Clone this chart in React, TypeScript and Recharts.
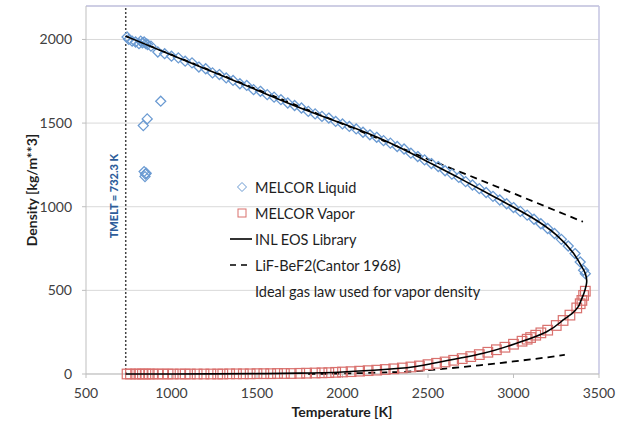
import { CartesianGrid, Legend, ReferenceLine, Scatter, ScatterChart, XAxis, YAxis } from "recharts";

const FONT = "Lato, 'Open Sans', sans-serif";

// MELCOR liquid density (diamonds)
const liquidT = [
  740, 750, 770, 790, 810, 820, 830, 840, 850, 860, 880, 937, 858, 835, 840, 848, 845, 852,
  920, 960, 1000, 1040, 1080, 1120, 1160, 1200, 1240, 1280, 1320, 1360, 1400, 1440, 1480, 1520,
  1560, 1600, 1640, 1680, 1720, 1760, 1800, 1840, 1880, 1920, 1960, 2000, 2040, 2080, 2120, 2160,
  2200, 2240, 2280, 2320, 2360, 2400, 2440, 2480, 2520, 2560, 2600, 2640, 2680, 2720, 2760, 2800,
  2840, 2880, 2920, 2960, 3000, 3040, 3080, 3120, 3160, 3200, 3240, 3280, 3320, 3360, 3390, 3410, 3420,
];
const liquidRho = [
  2015, 2000, 1990, 1985, 1975, 1990, 1980, 1985, 1975, 1970, 1960, 1631, 1525, 1485, 1210, 1195, 1180, 1200,
  1925, 1915, 1900, 1890, 1870, 1860, 1835, 1825, 1800, 1790, 1770, 1755, 1735, 1725, 1700, 1690,
  1670, 1655, 1640, 1620, 1605, 1590, 1570, 1555, 1540, 1530, 1510, 1495, 1480, 1465, 1445, 1430,
  1415, 1395, 1380, 1360, 1345, 1320, 1300, 1280, 1258, 1240, 1215, 1195, 1175, 1150, 1130, 1108,
  1085, 1062, 1040, 1018, 995, 972, 950, 925, 898, 870, 840, 805, 765, 720, 670, 620, 600,
];

// MELCOR vapor density (squares)
const vaporT = [
  740, 760, 790, 810, 830, 850, 870, 890, 920, 950, 980, 1010, 1050, 1080, 1110, 1150, 1190, 1230,
  1270, 1300, 1340, 1380, 1420, 1460, 1500, 1540, 1580, 1620, 1660, 1700, 1750, 1790, 1840, 1880,
  1920, 1960, 2000, 2050, 2100, 2150, 2200, 2250, 2300, 2350, 2400, 2450, 2500, 2550, 2600, 2650,
  2700, 2750, 2800, 2850, 2900, 2950, 3000, 3050, 3080, 3100, 3130, 3160, 3200, 3250, 3290, 3330,
  3370, 3390, 3400, 3410, 3420,
];
const vaporRho = [
  0, 0, 0, 0, 0, 0, 0, 0, 0, 0, 0, 0, 0, 0, 0, 0, 0, 0,
  0, 0, 1, 1, 1, 1, 2, 2, 2, 3, 3, 3, 4, 5, 6, 7,
  8, 10, 12, 14, 17, 20, 23, 27, 31, 36, 42, 48, 56, 64, 72, 82,
  92, 104, 116, 130, 145, 160, 178, 196, 208, 218, 232, 246, 262, 290, 320, 352,
  395, 420, 440, 470, 495,
];

// INL EOS library: liquid branch up to the critical point, then back down the vapor branch
const eosT = [
  732, 1000, 1250, 1500, 1750, 2000, 2250, 2500, 2700, 2900, 3100, 3250, 3350, 3400, 3420, 3428,
  3425, 3412, 3395, 3379, 3340, 3291, 3194, 3019, 2823, 2531, 2336, 2000, 1750, 1500, 1250, 1000, 732,
];
const eosRho = [
  2020, 1907, 1802, 1697, 1592, 1497, 1394, 1268, 1162, 1052, 940, 832, 723, 640, 600, 560,
  530, 483, 440, 403, 360, 323, 253, 184, 124, 64, 34, 12, 5, 2, 1, 0, 0,
];

// LiF-BeF2 (Cantor 1968)
const cantorLiqT = [732, 1000, 1500, 2000, 2500, 3000, 3406];
const cantorLiqRho = [2020, 1909, 1702, 1495, 1285, 1080, 910];
const cantorVapT = [1800, 2000, 2200, 2400, 2600, 2800, 3000, 3200, 3300];
const cantorVapRho = [0, 3, 8, 15, 32, 52, 75, 100, 115];

const xTicks = [500, 1000, 1500, 2000, 2500, 3000, 3500];
const yTicks = [0, 500, 1000, 1500, 2000];
const TMELT = 732.3;

const zip = (t: number[], rho: number[]) => t.map((v, i) => ({ t: v, rho: rho[i] }));

const BLUE = "#6a9ad2";
const RED = "#d9706d";

const Diamond = (props: any) => {
  const { cx, cy } = props;
  const r = 5;
  return (
    <path
      d={`M${cx},${cy - r}L${cx + r},${cy}L${cx},${cy + r}L${cx - r},${cy}Z`}
      fill="none"
      stroke={BLUE}
      strokeWidth={1.3}
    />
  );
};

const Square = (props: any) => {
  const { cx, cy } = props;
  const r = 4.8;
  return <rect x={cx - r} y={cy - r} width={2 * r} height={2 * r} fill="none" stroke={RED} strokeWidth={1.2} />;
};

const NoDot = () => <g />;

const renderLegend = () => {
  const row = { display: "flex", alignItems: "center", height: 26 };
  return (
    <div style={{ fontFamily: FONT, fontSize: 14.5, color: "#1e1e1e" }}>
      <div style={row}>
        <svg width={24} height={26}>
          <path d="M14,8.5L18.5,13L14,17.5L9.5,13Z" fill="none" stroke={BLUE} strokeWidth={1} />
        </svg>
        <span style={{ marginLeft: 3 }}>MELCOR Liquid</span>
      </div>
      <div style={row}>
        <svg width={24} height={26}>
          <rect x={10} y={9} width={8} height={8} fill="none" stroke={RED} strokeWidth={1} />
        </svg>
        <span style={{ marginLeft: 3 }}>MELCOR Vapor</span>
      </div>
      <div style={row}>
        <svg width={24} height={26}>
          <line x1={2} y1={13} x2={25} y2={13} stroke="#000" strokeWidth={1.6} />
        </svg>
        <span style={{ marginLeft: 3 }}>INL EOS Library</span>
      </div>
      <div style={row}>
        <svg width={24} height={26}>
          <line x1={2} y1={13} x2={24} y2={13} stroke="#000" strokeWidth={1.6} strokeDasharray="6 5" />
        </svg>
        <span style={{ marginLeft: 3 }}>LiF-BeF2(Cantor 1968)</span>
      </div>
      <div style={row}>
        <span style={{ marginLeft: 27 }}>Ideal gas law used for vapor density</span>
      </div>
    </div>
  );
};

export default function App() {
  return (
    <div style={{ position: "absolute", left: 0, top: 0, width: 621, height: 427, background: "#fff" }}>
      <ScatterChart width={621} height={427} margin={{ top: 6, right: 22, bottom: 0, left: 0 }}>
        <CartesianGrid vertical={false} stroke="#d9d9d9" />
        <XAxis
          type="number"
          dataKey="t"
          domain={[500, 3500]}
          ticks={xTicks}
          height={53}
          tickSize={4}
          tickMargin={10}
          axisLine={{ stroke: "#bfbfbf" }}
          tickLine={{ stroke: "#bfbfbf" }}
          tick={{ fill: "#404040", fontSize: 14, fontFamily: FONT }}
          label={{
            content: () => (
              <text x={342} y={417} textAnchor="middle" fontFamily={FONT} fontSize={14} fontWeight={700} fill="#1e1e1e">
                Temperature [K]
              </text>
            ),
          }}
        />
        <YAxis
          type="number"
          dataKey="rho"
          domain={[0, 2200]}
          ticks={yTicks}
          width={86}
          tickSize={4}
          tickMargin={10}
          axisLine={{ stroke: "#bfbfbf" }}
          tickLine={{ stroke: "#bfbfbf" }}
          tick={{ fill: "#404040", fontSize: 14, fontFamily: FONT }}
          label={{
            content: () => (
              <text
                x={37}
                y={190}
                transform="rotate(-90 37 190)"
                textAnchor="middle"
                fontFamily={FONT}
                fontSize={14}
                fontWeight={700}
                fill="#1e1e1e"
              >
                Density [kg/m**3]
              </text>
            ),
          }}
        />
        <ReferenceLine y={2200} stroke="#c5c5e2" strokeWidth={1.5} />
        <ReferenceLine x={3500} stroke="#c5c5e2" strokeWidth={1.5} />
        <ReferenceLine
          x={TMELT}
          stroke="#444"
          strokeDasharray="2 2"
          strokeWidth={1.5}
          label={{
            content: (p: any) => {
              const x = (p.viewBox?.x ?? 125) - 8;
              return (
                <text
                  x={x}
                  y={196}
                  transform={`rotate(-90 ${x} 196)`}
                  textAnchor="middle"
                  fontFamily={FONT}
                  fontSize={11}
                  fontWeight={900}
                  fill="#2e5d9a"
                >
                  TMELT = 732.3 K
                </text>
              );
            },
          }}
        />
        <Scatter
          name="LiF-BeF2 liquid"
          data={zip(cantorLiqT, cantorLiqRho)}
          line={{ stroke: "#000", strokeWidth: 1.8, strokeDasharray: "7 5" }}
          shape={NoDot}
          isAnimationActive={false}
        />
        <Scatter
          name="LiF-BeF2 vapor"
          data={zip(cantorVapT, cantorVapRho)}
          line={{ stroke: "#000", strokeWidth: 1.8, strokeDasharray: "7 5" }}
          lineJointType="monotoneX"
          shape={NoDot}
          isAnimationActive={false}
        />
        <Scatter name="MELCOR Liquid" data={zip(liquidT, liquidRho)} shape={Diamond} isAnimationActive={false} />
        <Scatter name="MELCOR Vapor" data={zip(vaporT, vaporRho)} shape={Square} isAnimationActive={false} />
        <Scatter
          name="INL EOS Library"
          data={zip(eosT, eosRho)}
          line={{ stroke: "#000", strokeWidth: 1.6 }}
          lineJointType="natural"
          shape={NoDot}
          isAnimationActive={false}
        />
        <Legend
          layout="vertical"
          align="center"
          verticalAlign="middle"
          wrapperStyle={{ left: 228, top: 174, width: 300 }}
          content={renderLegend}
        />
      </ScatterChart>
    </div>
  );
}
